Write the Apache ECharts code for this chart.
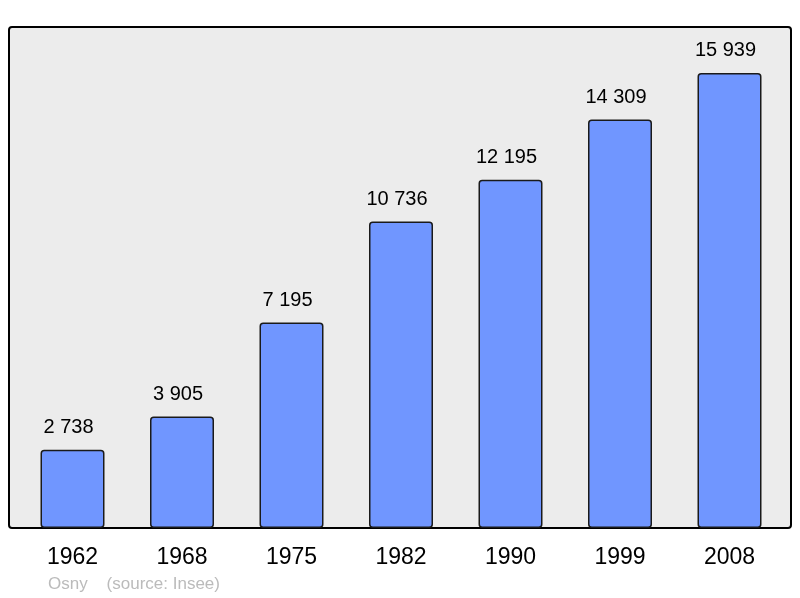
<!DOCTYPE html>
<html><head><meta charset="utf-8">
<script src="https://cdn.jsdelivr.net/npm/echarts@6/dist/echarts.min.js"></script>
<style>html,body{margin:0;padding:0;background:#fff}#c{width:800px;height:598px}</style>
</head><body><div id="c"></div>
<script>
var years = ['1962','1968','1975','1982','1990','1999','2008'];
var population = [2738, 3905, 7195, 10736, 12195, 14309, 15939];
var footnote = 'Osny    (source: Insee)';

function fmt(v){ return String(v).replace(/\B(?=(\d{3})+(?!\d))/g, ' '); }

var chart = echarts.init(document.getElementById('c'), null, {renderer:'canvas'});
chart.setOption({
  animation: false,
  textStyle: {fontFamily: 'Liberation Sans, Arial, sans-serif'},
  graphic: [
    {type:'rect', z:-10, shape:{x:9, y:27, width:782, height:501, r:3},
     style:{fill:'#ececec', stroke:'#000', lineWidth:2}},
    {type:'text', left:48, top:576, style:{text: footnote, fill:'#bbbbbb', font:'17px Liberation Sans, Arial, sans-serif'}}
  ],
  grid: {left:17.75, right:15.75, top:28.4, bottom:70, containLabel:false},
  xAxis: {
    type:'category', data: years,
    axisLine:{show:false}, axisTick:{show:false},
    axisLabel:{color:'#000', fontSize:23, margin:18, fontFamily:'Liberation Sans, Arial, sans-serif'}
  },
  yAxis: {
    type:'value', min:0, max:17500,
    show:false, splitLine:{show:false}
  },
  series: [{
    type:'bar', data: population, barWidth:64,
    itemStyle:{color:'#7096ff', borderColor:'#1a1a1a', borderWidth:1.5, borderRadius:3},
    label:{show:true, position:'top', distance:12, offset:[-4,0], color:'#000', fontSize:20,
      fontFamily:'Liberation Sans, Arial, sans-serif',
      formatter:function(p){return fmt(p.value);}}
  }]
});
</script></body></html>
